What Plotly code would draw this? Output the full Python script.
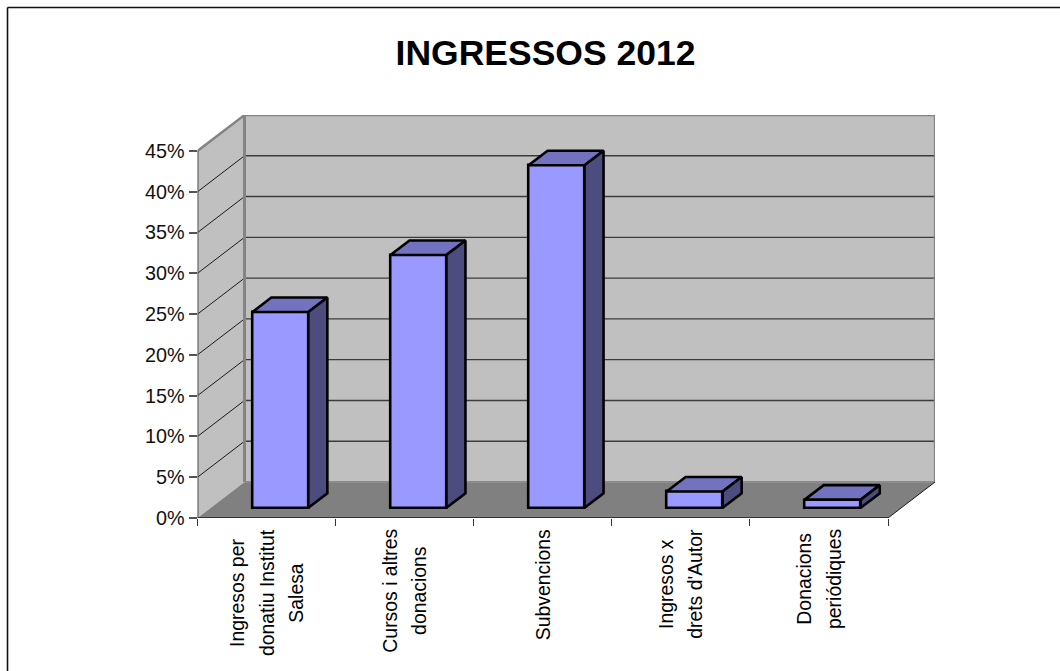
import plotly.graph_objects as go

# ---- data ----
categories = [
    "Ingresos per<br>donatiu Institut<br>Salesa",
    "Cursos i altres<br>donacions",
    "Subvencions",
    "Ingresos x<br>drets d'Autor",
    "Donacions<br>periódiques",
]
values = [24, 31, 42, 2, 1]
y_ticks = [0, 5, 10, 15, 20, 25, 30, 35, 40, 45]
y_tick_labels = ["0%", "5%", "10%", "15%", "20%", "25%", "30%", "35%", "40%", "45%"]
title_text = "INGRESSOS 2012"

# ---- layout geometry ----
W, H = 1060, 671
FONT = "Liberation Sans, Arial, sans-serif"
X0_PX, X5_PX, Y0_PX, Y45_PX = 197.5, 888.0, 518.0, 151.0
BACK_DX_PX, BACK_DY_PX = 47.0, 36.0
n = len(categories)
ymax = y_ticks[-1]
px_x = (X5_PX - X0_PX) / n
px_y = (Y0_PX - Y45_PX) / ymax
DX = BACK_DX_PX / px_x           # wall depth, x data units
DY = BACK_DY_PX / px_y           # wall depth, y data units
BAR_W = 56.0 / px_x
BAR_OX = 13.8 / px_x             # bar front face depth offset
BAR_OY = 10.2 / px_y
BAR_DX = 19.0 / px_x             # bar depth
BAR_DY = 14.5 / px_y

C_WALL, C_EDGE, C_FLOOR = "#C0C0C0", "#848484", "#808080"
C_FRONT, C_TOP, C_SIDE = "#9999FF", "#7272BF", "#4C4C7F"

shapes = []


def poly(pts, fill, line=None, lw=0):
    path = "M " + " L ".join(f"{x},{y}" for x, y in pts) + " Z"
    shapes.append(dict(type="path", path=path, xref="x", yref="y", layer="below",
                       fillcolor=fill, line=dict(color=line or fill, width=lw)))


def seg(x0, y0, x1, y1, color, lw):
    shapes.append(dict(type="line", x0=x0, y0=y0, x1=x1, y1=y1, xref="x", yref="y",
                       layer="below", line=dict(color=color, width=lw)))


# walls and floor
poly([(DX, DY), (n + DX, DY), (n + DX, ymax + DY), (DX, ymax + DY)], C_WALL)
poly([(0, 0), (DX, DY), (DX, ymax + DY), (0, ymax)], C_WALL)
poly([(0, 0), (n, 0), (n + DX, DY), (DX, DY)], C_FLOOR)
# gridlines
for v in y_ticks[1:-1]:
    seg(0, v, DX, v + DY, "#1a1a1a", 1)
    seg(DX, v + DY, n + DX, v + DY, "#3c3c3c", 1.4)
# wall edges
seg(0, ymax, DX, ymax + DY, C_EDGE, 2.4)
seg(DX, ymax + DY, n + DX, ymax + DY, C_EDGE, 2.4)
seg(n + DX, DY, n + DX, ymax + DY, C_EDGE, 2.4)
seg(DX, DY, DX, ymax + DY, C_EDGE, 3)
seg(DX, DY, n + DX, DY, "#8c8c8c", 2)
# axes
seg(0, 0, 0, ymax, "#555555", 2)
seg(0, 0, n, 0, "#1a1a1a", 1.6)
seg(n, 0, n + DX, DY, "#1a1a1a", 1)

# outer chart border (top and left only)
for x0, y0, x1, y1 in [(7.5, 7.5, W, 7.5), (7.5, 7.5, 7.5, H)]:
    shapes.append(dict(type="line", xref="paper", yref="paper",
                       x0=x0 / W, x1=x1 / W, y0=1 - y0 / H, y1=1 - y1 / H,
                       line=dict(color="#111111", width=1.6)))

fig = go.Figure()
centers = [i + 0.5 + BAR_OX for i in range(n)]
fig.add_trace(go.Bar(
    x=centers, y=values, base=[BAR_OY] * n, width=[BAR_W] * n,
    marker=dict(color=C_FRONT, line=dict(color="black", width=2.6)),
    showlegend=False, hoverinfo="skip"))

for c, v in zip(centers, values):
    l, r = c - BAR_W / 2, c + BAR_W / 2
    t, b = v + BAR_OY, BAR_OY
    fig.add_trace(go.Scatter(
        x=[l, r, r + BAR_DX, l + BAR_DX, l], y=[t, t, t + BAR_DY, t + BAR_DY, t],
        mode="lines", fill="toself", fillcolor=C_TOP,
        line=dict(color="black", width=2.6), showlegend=False, hoverinfo="skip"))
    fig.add_trace(go.Scatter(
        x=[r, r + BAR_DX, r + BAR_DX, r, r], y=[b, b + BAR_DY, t + BAR_DY, t, b],
        mode="lines", fill="toself", fillcolor=C_SIDE,
        line=dict(color="black", width=2.6), showlegend=False, hoverinfo="skip"))

annotations = []
for i, cat in enumerate(categories):
    styled = "<br>".join(f'<span style="font-size:19.4px">{s}</span>' for s in cat.split("<br>"))
    annotations.append(dict(
        x=i + 0.5, xref="x", y=1 - 527 / H, yref="paper", text=styled, showarrow=False,
        textangle=-90, xanchor="center", yanchor="top", align="center",
        font=dict(family=FONT, size=22.8, color="black")))

fig.update_layout(
    width=W, height=H, autosize=False,
    margin=dict(l=0, r=0, t=0, b=0),
    paper_bgcolor="white", plot_bgcolor="rgba(0,0,0,0)",
    title=dict(text=f"<b>{title_text}</b>", x=545.5 / W, xanchor="center", xref="paper",
               y=1 - 53 / H, yanchor="middle", yref="paper",
               font=dict(family=FONT, size=35.5, color="black")),
    xaxis=dict(domain=[X0_PX / W, (X5_PX + BACK_DX_PX) / W], range=[0, n + DX],
               automargin=False,
               tickmode="array", tickvals=list(range(n + 1)), ticktext=[""] * (n + 1),
               ticks="outside", ticklen=7, tickwidth=1.2, tickcolor="#333333",
               showgrid=False, zeroline=False, showline=False, fixedrange=True),
    yaxis=dict(domain=[1 - Y0_PX / H, 1 - (Y45_PX - BACK_DY_PX) / H], range=[0, ymax + DY],
               automargin=False,
               tickmode="array", tickvals=y_ticks, ticktext=y_tick_labels,
               ticks="outside", ticklen=8, tickwidth=1.5, tickcolor="#555555",
               tickfont=dict(family=FONT, size=19.8, color="#111111"),
               showgrid=False, zeroline=False, showline=False, fixedrange=True),
    shapes=shapes, annotations=annotations, bargap=0, showlegend=False,
)

fig.write_html("out.html", config=dict(displayModeBar=False),
               post_script="document.body.style.margin='0';document.body.style.overflow='hidden';")
